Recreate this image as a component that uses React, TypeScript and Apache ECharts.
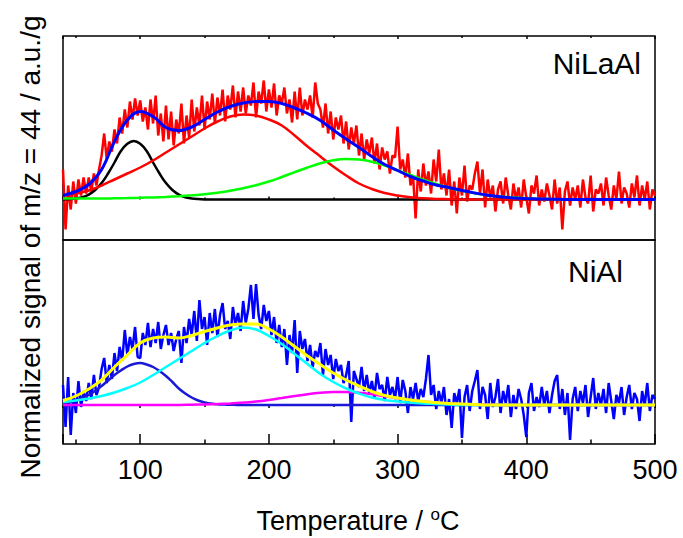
import { useEffect, useRef } from "react";
import * as echarts from "echarts";

// Temperature grids (°C)
const SIG_START = 40;
const SIG_STEP = 2;
const FIT_START = 40;
const FIT_STEP = 10;
const PEAK_STEP = 5;
const T_END = 500;

const xTickLabels = ["100", "200", "300", "400", "500"];
const panelLabels = ["NiLaAl", "NiAl"];

// Top panel (NiLaAl): measured signal, every 2 °C from 40 to 500
const sigNiLaAl = [
  30, -30, 14, -10, 18, -4, 20, 4, 22, 6,
  22, 8, 26, 14, 30, 44, 66, 40, 58, 48,
  70, 56, 82, 66, 90, 72, 98, 80, 101, 84,
  99, 78, 92, 70, 100, 76, 104, 64, 86, 58,
  94, 60, 88, 54, 80, 66, 96, 56, 84, 62,
  100, 68, 92, 74, 104, 70, 98, 80, 106, 76,
  102, 84, 110, 78, 104, 90, 114, 82, 108, 88,
  112, 86, 104, 94, 117, 82, 108, 96, 119, 88,
  110, 92, 116, 84, 104, 96, 112, 86, 100, 77,
  108, 80, 112, 84, 100, 90, 104, 82, 117, 96,
  90, 72, 96, 66, 88, 60, 82, 70, 84, 56,
  78, 50, 72, 56, 74, 44, 66, 40, 60, 46,
  62, 36, 56, 30, 52, 40, 48, 26, 44, 42,
  73, 30, 40, 22, 46, 14, 24, -19, 30, 8,
  36, 14, 28, 6, 40, 18, 50, 10, 26, 4,
  30, -6, 18, -14, 22, 4, 34, -2, 14, 10,
  26, 38, 6, 30, -8, 20, 2, 14, -12, 10,
  18, -4, 22, 4, -10, 16, 0, 12, -8, 20,
  2, -14, 14, 6, 24, -6, 10, -2, 16, 4,
  -10, 20, -4, 12, -30, 8, 18, -6, 12, 0,
  14, -8, 20, 2, -4, 24, -12, 10, 6, 16,
  -6, 22, 4, -10, 14, 0, 28, -4, 12, 6,
  -8, 16, 2, 24, -6, 14, 0, 18, -10, 10,
  4,
];

// Top panel narrow fit peak, every 5 °C from 40 to 180 (zero beyond)
const fitBlackTop = [0.1, 0.4, 1, 2.2, 4.9, 9.5, 16.4, 26, 37, 48.5, 55.7, 58.5, 55.7, 48.5, 37, 26,
  16.4, 9.5, 4.9, 2.2, 1, 0.4, 0.1, 0, 0, 0, 0, 0, 0];
// Top panel broad fits, every 10 °C from 40 to 500
const fitRedTop = [4, 6, 9, 14, 20, 26, 32, 39, 47, 55, 63, 71, 78, 83, 85, 84, 80, 74, 64, 53,
  43, 33, 24, 16, 10.5, 6.5, 4, 2.2, 1.2, 0.6, 0.3,
  0, 0, 0, 0, 0, 0, 0, 0, 0, 0, 0, 0, 0, 0, 0, 0];
const fitGreenTop = [1, 1, 1, 1, 1.2, 1.4, 1.7, 2.1, 2.6, 3.3, 4.2, 5.3, 6.8, 8.7, 11.2, 14.3, 18, 22.5, 27.3, 32,
  36.2, 39.2, 40.5, 40, 37.8, 34, 29.3, 24.5, 19.8, 15.5, 11.8, 8.7, 6.2, 4.3, 2.9, 1.9, 1.2, 0.7, 0.4, 0.2,
  0, 0, 0, 0, 0, 0, 0];
const fitSumTop = [4, 8, 15, 30, 58, 79.5, 88, 83, 72, 69, 72.5, 80, 87.5, 93, 96.5, 98, 98, 96, 91.5, 86,
  79, 69.5, 60.5, 52, 43, 35, 29, 23, 18.5, 14.5, 12, 9, 6.5, 4.3, 2.7, 1.6, 1, 0.6, 0.3, 0.1,
  0, 0, 0, 0, 0, 0, 0];

// Bottom panel (NiAl): measured signal, every 2 °C from 40 to 500
const sigNiAl = [
  20, -22, 28, -30, 12, -8, 24, -2, 14, 4,
  22, 6, 30, 10, 18, 36, 47, 22, 40, 26,
  52, 34, 58, 44, 75, 50, 68, 56, 78, 48,
  47, 72, 60, 82, 58, 76, 62, 83, 56, 70,
  80, 60, 72, 54, 66, 74, 42, 78, 62, 86,
  70, 94, 64, 105, 76, 88, 60, 92, 72, 96,
  68, 90, 102, 76, 84, 66, 98, 80, 92, 74,
  104, 82, 96, 120, 86, 121, 90, 76, 100, 84,
  94, 70, 88, 62, 80, 58, 76, 40, 70, 52,
  85, 32, 74, 56, 66, 44, 60, 38, 54, 48,
  62, 30, 56, 40, 50, 26, 46, 34, 40, 22,
  30, 44, -17, 34, 26, 18, 38, 14, 30, 12,
  24, 8, 32, 16, 20, 4, 28, 10, 18, 6,
  28, 2, 25, 14, -8, 18, 6, 22, 4, 16,
  8, 26, 50, 10, 20, -4, 14, 2, 18, -10,
  6, -23, 12, 2, 16, -33, 8, 20, -6, 14,
  24, 35, -4, 18, 10, -14, 22, -2, 8, 26,
  -8, 14, 2, 20, -12, 10, -4, 16, 6, -10,
  -32, 12, 22, -6, 8, -2, 18, 0, 14, -8,
  10, 24, 30, -4, 16, -10, 12, -35, 6, 18,
  -6, 14, 2, 20, -12, 8, 27, -4, 12, 0,
  16, -8, 22, 4, -14, 10, 2, 18, -10, 8,
  20, -4, 12, 6, -16, 14, 0, 22, -6, 10,
  6,
];

// Bottom panel narrow fit peak, every 5 °C from 40 to 180 (zero beyond)
const fitDarkBot = [1.5, 2.8, 4.5, 7, 10, 14, 19, 24.5, 30, 34.5, 38.5, 41, 42, 40.5, 38, 34,
  29, 23, 16.5, 11.5, 7.5, 4.5, 2.5, 1.4, 0.7, 0.4, 0.2, 0.1, 0];
// Bottom panel broad fits, every 10 °C from 40 to 500
const fitCyanBot = [3, 4.5, 6.5, 9, 12.5, 17, 22.5, 30, 38, 46, 54, 62, 69, 74.5, 77.5, 75.5, 69, 61, 51, 41,
  31, 23, 16.5, 11.5, 7.5, 5, 3.5, 2.5, 1.5, 1, 0.5,
  0, 0, 0, 0, 0, 0, 0, 0, 0, 0, 0, 0, 0, 0, 0, 0];
const fitMagentaBot = [0, 0, 0, 0, 0, 0, 0, 0, 0, 0,
  0.3, 0.6, 1, 1.6, 2.4, 3.4, 5, 7, 9, 10.8, 12.2, 13, 13, 12.3, 10.8, 8.8, 6.8, 5, 3.6, 2.5, 1.6, 1, 0.6, 0.3,
  0, 0, 0, 0, 0, 0, 0, 0, 0, 0, 0, 0, 0];
const fitSumBot = [4.5, 9, 16, 25, 38, 50, 62, 67, 68, 67, 69.5, 73.5, 77, 80, 81, 81, 76, 68, 58.5, 49,
  40.5, 32, 25, 19, 13.5, 9.5, 7, 5, 3.5, 2.5, 1.5, 1, 0.5,
  0, 0, 0, 0, 0, 0, 0, 0, 0, 0, 0, 0, 0, 0];

const toPairs = (vals: number[], start: number, step: number) =>
  vals.map((v, i) => [start + i * step, v]);
// narrow peaks: values up to 180 °C, then the zero baseline continues to the axis end
const toPeakPairs = (vals: number[]) => [...toPairs(vals, FIT_START, PEAK_STEP), [T_END, 0]];

const FONT = "Liberation Sans, Arial, sans-serif";

export default function App() {
  const ref = useRef<HTMLDivElement>(null);

  useEffect(() => {
    if (!ref.current) return;
    const chart = echarts.init(ref.current, undefined, { renderer: "svg" });

    const tickStyle = { color: "#000", width: 1.5 };
    const xBase = {
      type: "value" as const,
      min: 40,
      max: 500,
      splitNumber: 5,
      splitLine: { show: false },
      axisLine: { show: false },
    };
    const smallAxis = (gridIndex: number, position: string) => ({
      ...xBase,
      gridIndex,
      position,
      axisTick: { show: true, inside: true, length: 3, lineStyle: tickStyle },
      minorTick: { show: true, splitNumber: 2, length: 2, lineStyle: tickStyle },
      axisLabel: { show: false },
    });

    const line = (
      data: number[][],
      color: string,
      xi: number,
      yi: number,
      width: number,
      smooth: boolean | number
    ) => ({
      type: "line",
      data,
      xAxisIndex: xi,
      yAxisIndex: yi,
      symbol: "none",
      smooth,
      silent: true,
      lineStyle: { color, width },
      itemStyle: { color },
    });

    chart.setOption({
      animation: false,
      backgroundColor: "#fff",
      grid: [
        { left: 63, top: 36, width: 592, height: 204, show: true, borderColor: "#000", borderWidth: 1.5, backgroundColor: "transparent" },
        { left: 63, top: 240, width: 592, height: 204, show: true, borderColor: "#000", borderWidth: 1.5, backgroundColor: "transparent" },
      ],
      xAxis: [
        smallAxis(0, "bottom"),
        smallAxis(0, "top"),
        smallAxis(1, "top"),
        {
          ...xBase,
          gridIndex: 1,
          position: "bottom",
          axisTick: { show: true, inside: true, length: 10, lineStyle: tickStyle },
          minorTick: { show: true, splitNumber: 2, length: 4.5, lineStyle: tickStyle },
          axisLabel: {
            show: true,
            showMinLabel: false,
            margin: 12,
            fontSize: 27,
            fontFamily: FONT,
            color: "#000",
            formatter: (v: number) => (xTickLabels.includes(String(v)) ? String(v) : ""),
          },
        },
      ],
      yAxis: [
        { type: "value", gridIndex: 0, min: -40.5, max: 163.5, show: false },
        { type: "value", gridIndex: 1, min: -39, max: 165, show: false },
      ],
      series: [
        line(toPairs(sigNiLaAl, SIG_START, SIG_STEP), "#ff0000", 0, 0, 2.5, false),
        line(toPeakPairs(fitBlackTop), "#000000", 0, 0, 2.5, 0.4),
        line(toPairs(fitRedTop, FIT_START, FIT_STEP), "#ff0000", 0, 0, 2.5, 0.4),
        line(toPairs(fitGreenTop, FIT_START, FIT_STEP), "#00ff00", 0, 0, 2.5, 0.4),
        line(toPairs(fitSumTop, FIT_START, FIT_STEP), "#0000ff", 0, 0, 3, 0.4),
        line(toPairs(sigNiAl, SIG_START, SIG_STEP), "#0000ff", 3, 1, 2.5, false),
        line(toPeakPairs(fitDarkBot), "#1a1ad6", 3, 1, 2.5, 0.4),
        line(toPairs(fitMagentaBot, FIT_START, FIT_STEP), "#ff00ff", 3, 1, 2.5, 0.4),
        line(toPairs(fitCyanBot, FIT_START, FIT_STEP), "#00ffff", 3, 1, 2.5, 0.4),
        line(toPairs(fitSumBot, FIT_START, FIT_STEP), "#ffff00", 3, 1, 3, 0.4),
      ],
      graphic: [
        {
          type: "text",
          x: 641,
          y: 63,
          silent: true,
          style: { text: panelLabels[0], fontSize: 30, fontFamily: FONT, fill: "#000", align: "right", verticalAlign: "middle" },
        },
        {
          type: "text",
          x: 623,
          y: 271,
          silent: true,
          style: { text: panelLabels[1], fontSize: 30, fontFamily: FONT, fill: "#000", align: "right", verticalAlign: "middle" },
        },
        {
          type: "text",
          x: 358,
          y: 521,
          silent: true,
          style: {
            text: "{a|Temperature / }{b|o}{a|C}",
            align: "center",
            verticalAlign: "middle",
            fill: "#000",
            rich: {
              a: { fontSize: 27, fontFamily: FONT, fill: "#000", lineHeight: 30 },
              b: { fontSize: 17, fontFamily: FONT, fill: "#000", verticalAlign: "top", lineHeight: 30 },
            },
          },
        },
        {
          type: "text",
          x: 30,
          y: 247,
          rotation: Math.PI / 2,
          silent: true,
          style: {
            text: "Normalized signal of m/z = 44 / a.u./g",
            fontSize: 28,
            fontFamily: FONT,
            fill: "#000",
            align: "center",
            verticalAlign: "middle",
          },
        },
      ],
    });

    return () => chart.dispose();
  }, []);

  return (
    <div
      ref={ref}
      style={{ position: "fixed", left: 0, top: 0, width: 683, height: 538, background: "#fff" }}
    />
  );
}
